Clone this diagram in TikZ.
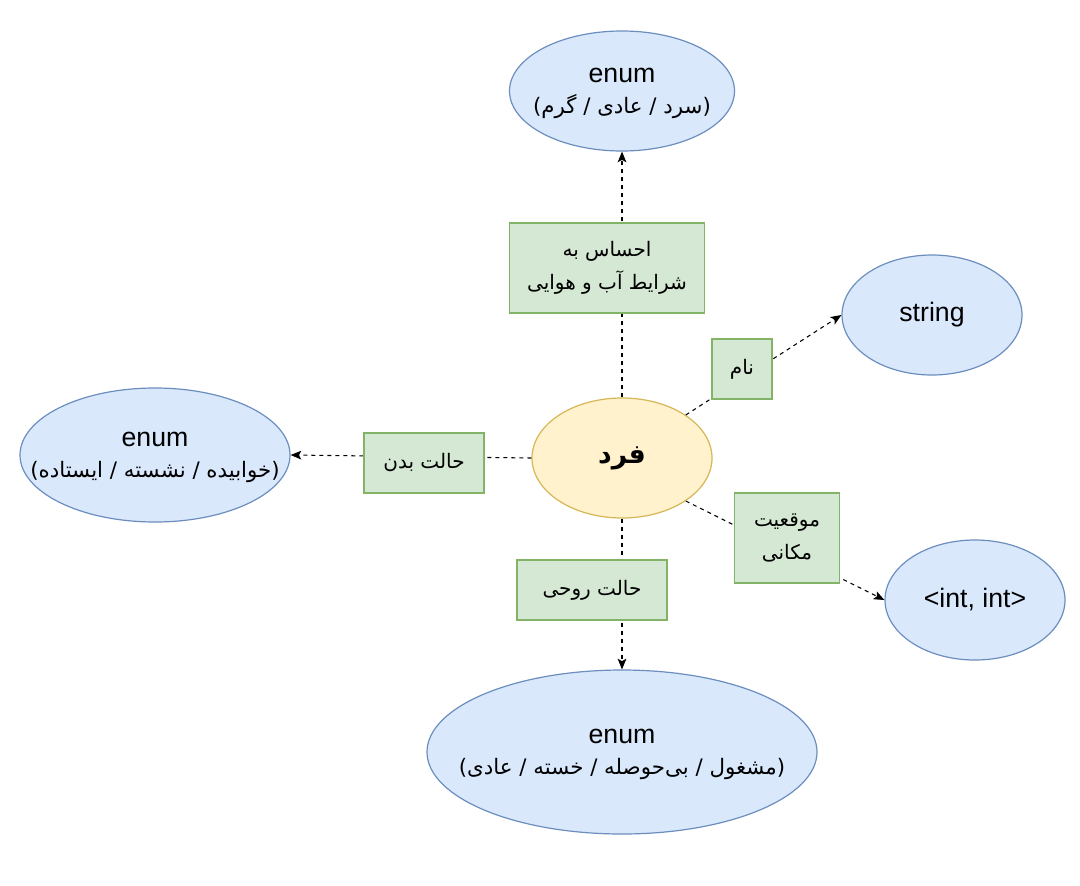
\documentclass[tikz,border=0pt]{standalone}
\usepackage{fontspec}
\setmainfont{Liberation Sans}
\newfontfamily\arabicfont[Script=Arabic]{DejaVu Sans}
\TeXXeTstate=1
\usetikzlibrary{shapes.geometric,arrows.meta}
\definecolor{bfill}{HTML}{DAE8FC}
\definecolor{bline}{HTML}{6C8EBF}
\definecolor{yfill}{HTML}{FFF2CC}
\definecolor{yline}{HTML}{D6B656}
\definecolor{gfill}{HTML}{D5E8D4}
\definecolor{gline}{HTML}{82B366}
\newcommand\fa[1]{{\arabicfont\beginR #1\endR}}
\newcommand\faS[1]{{\arabicfont\fontsize{16}{23}\selectfont\beginR #1\endR}}
\tikzset{
  blueell/.style={ellipse, draw=bline, fill=bfill, line width=0.9pt, inner sep=0pt},
  yellell/.style={ellipse, draw=yline, fill=yfill, line width=0.9pt, inner sep=0pt},
  txt/.style={inner sep=0pt, align=center, font=\fontsize{20}{23}\selectfont},
  ctxt/.style={inner sep=0pt, align=center, font=\fontsize{20}{23}\selectfont\bfseries},
  lbl/.style={rectangle, draw=gline, fill=gfill, line width=0.9pt, inner sep=0pt, align=center,
    font=\fontsize{15}{25}\selectfont},
  conn/.style={draw=black, line width=0.8pt, dash pattern=on 3pt off 3pt},
  arr/.style={conn, -{Stealth[length=8pt,width=6.5pt,inset=1.8pt]}}
}
\begin{document}
\begin{tikzpicture}[x=0.75pt,y=-0.75pt]
\useasboundingbox (0,0) rectangle (1080,885);
\fill[white] (0,0) rectangle (1080,885);
% ellipses
\node[blueell, minimum width=225*0.75pt, minimum height=120*0.75pt] (t) at (622,91) {};
\node[txt, yshift=-2pt] (tt) at (t) {enum\\\faS{(سرد / عادی / گرم)}};
\node[blueell, minimum width=180*0.75pt, minimum height=120*0.75pt] (s) at (932,315) {};
\node[txt] (st) at (s) {string};
\node[blueell, minimum width=270*0.75pt, minimum height=134*0.75pt] (l) at (155,455) {};
\node[txt, yshift=-2pt] (lt) at (l) {enum\\\faS{(خوابیده / نشسته / ایستاده)}};
\node[yellell, minimum width=180*0.75pt, minimum height=120*0.75pt] (c) at (622,458) {};
\node[ctxt] (ct) at (c) {\fa{فرد}};
\node[blueell, minimum width=180*0.75pt, minimum height=120*0.75pt] (i) at (975,600) {};
\node[txt] (it) at (i) {<int, int>};
\node[blueell, minimum width=390*0.75pt, minimum height=164*0.75pt] (b) at (622,752) {};
\node[txt, yshift=-2pt] (bt) at (b) {enum\\\faS{(مشغول / بی‌حوصله / خسته / عادی)}};
% connectors
\draw[arr] (c.north) -- (t.south);
\draw[arr] (c.34) -- (s.west);
\draw[arr] (c.west) -- (l.east);
\draw[arr] (c.south) -- (b.north);
\draw[arr] (c.-34) -- (i.west);
% labels
\node[lbl, minimum width=195*0.75pt, minimum height=90*0.75pt] (l1) at (607,268)
  {\fa{احساس به}\\\fa{شرایط آب و هوایی}};
\node[lbl, minimum width=60*0.75pt, minimum height=60*0.75pt] (l2) at (742,369) {\fa{نام}};
\node[lbl, minimum width=120*0.75pt, minimum height=60*0.75pt] (l3) at (424,463) {\fa{حالت بدن}};
\node[lbl, minimum width=150*0.75pt, minimum height=60*0.75pt] (l4) at (592,590) {\fa{حالت روحی}};
\node[lbl, minimum width=105*0.75pt, minimum height=90*0.75pt] (l5) at (787,538)
  {\fa{موقعیت}\\\fa{مکانی}};
\end{tikzpicture}
\end{document}
